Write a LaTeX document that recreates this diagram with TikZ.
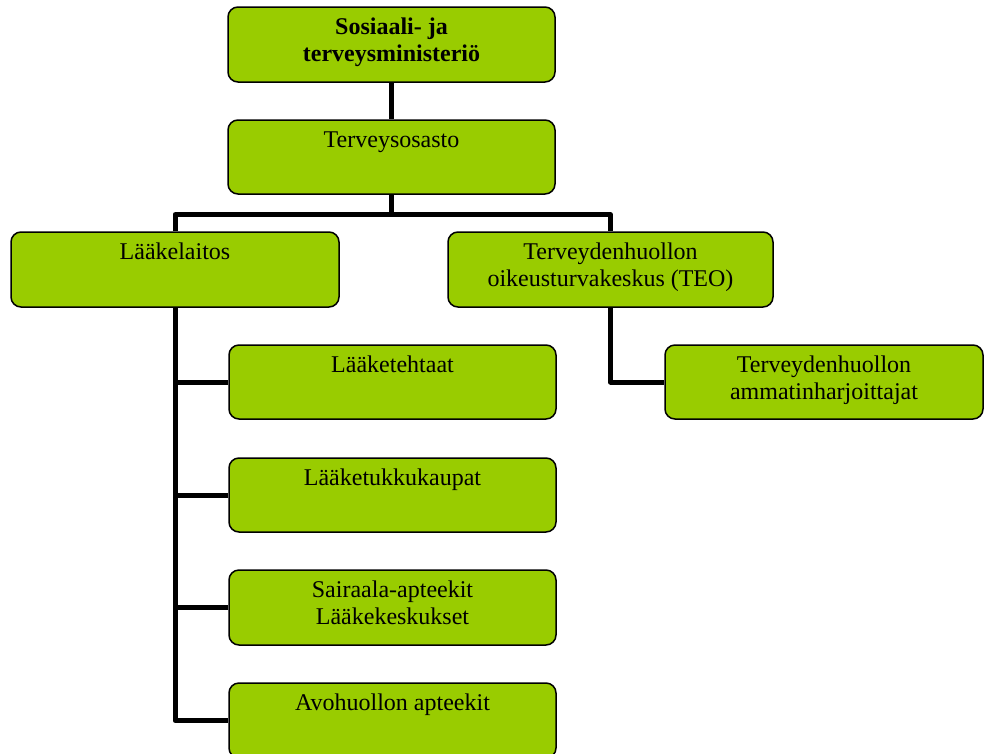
\documentclass[tikz,border=0pt]{standalone}
\usepackage{fontspec}
\setmainfont{Liberation Serif}
\usetikzlibrary{backgrounds,calc}
\definecolor{boxgreen}{HTML}{99CC00}
\tikzset{
  box/.style={draw=black, line width=1.5pt, fill=boxgreen, rounded corners=10pt,
    rectangle, inner sep=0pt, minimum height=75pt},
  lbl/.style={anchor=north, inner sep=0pt, align=center,
    font=\fontsize{24}{27.5}\selectfont},
  conn/.style={draw=black, line width=5pt, line join=round}
}
\begin{document}
\begin{tikzpicture}[x=1pt,y=-1pt]
\useasboundingbox (0,0) rectangle (985,753);
% boxes
\node[box, minimum width=327pt] (s1)  at (391.5,44.5) {};
\node[box, minimum width=327pt, minimum height=74pt] (s2)  at (391.5,157) {};
\node[box, minimum width=328pt] (ll)  at (175,269.5) {};
\node[box, minimum width=325pt] (teo) at (610.5,269.5) {};
\node[box, minimum width=327pt, minimum height=74pt] (c1) at (392.5,382) {};
\node[box, minimum width=327pt, minimum height=74pt] (c2) at (392.5,495) {};
\node[box, minimum width=327pt] (c3) at (392.5,607.5) {};
\node[box, minimum width=327pt] (c4) at (392.5,720.5) {};
\node[box, minimum width=318pt, minimum height=74pt] (th) at (824,382) {};
% texts
\node[lbl, font=\fontsize{24}{27.5}\selectfont\bfseries] (t1) at ([yshift=-8.4pt]s1.north) {\strut Sosiaali- ja\\terveysministeriö};
\node[lbl] (t2) at ([yshift=-8.4pt]s2.north) {\strut Terveysosasto};
\node[lbl] (t3) at ([yshift=-8.4pt]ll.north) {\strut Lääkelaitos};
\node[lbl] (t4) at ([yshift=-8.4pt]teo.north) {\strut Terveydenhuollon\\oikeusturvakeskus (TEO)};
\node[lbl] (t5) at ([yshift=-8.4pt]c1.north) {\strut Lääketehtaat};
\node[lbl] (t6) at ([yshift=-8.4pt]c2.north) {\strut Lääketukkukaupat};
\node[lbl] (t7) at ([yshift=-8.4pt]c3.north) {\strut Sairaala-apteekit\\Lääkekeskukset};
\node[lbl] (t8) at ([yshift=-8.4pt]c4.north) {\strut Avohuollon apteekit};
\node[lbl] (t9) at ([yshift=-8.4pt]th.north) {\strut Terveydenhuollon\\ammatinharjoittajat};
% connectors
\coordinate (j) at ([yshift=-20pt]s2.south);
\begin{scope}[on background layer]
\draw[conn] (s1.south) -- (s2.north);
\draw[conn] (s2.south) -- (j);
\draw[conn] (ll.north) |- (j) -| (teo.north);
\draw[conn] (ll.south) |- (c4.west);
\draw[conn] (c1.west) -- (c1.west -| ll.south);
\draw[conn] (c2.west) -- (c2.west -| ll.south);
\draw[conn] (c3.west) -- (c3.west -| ll.south);
\draw[conn] (teo.south) |- (th.west);
\end{scope}
\end{tikzpicture}
\end{document}
